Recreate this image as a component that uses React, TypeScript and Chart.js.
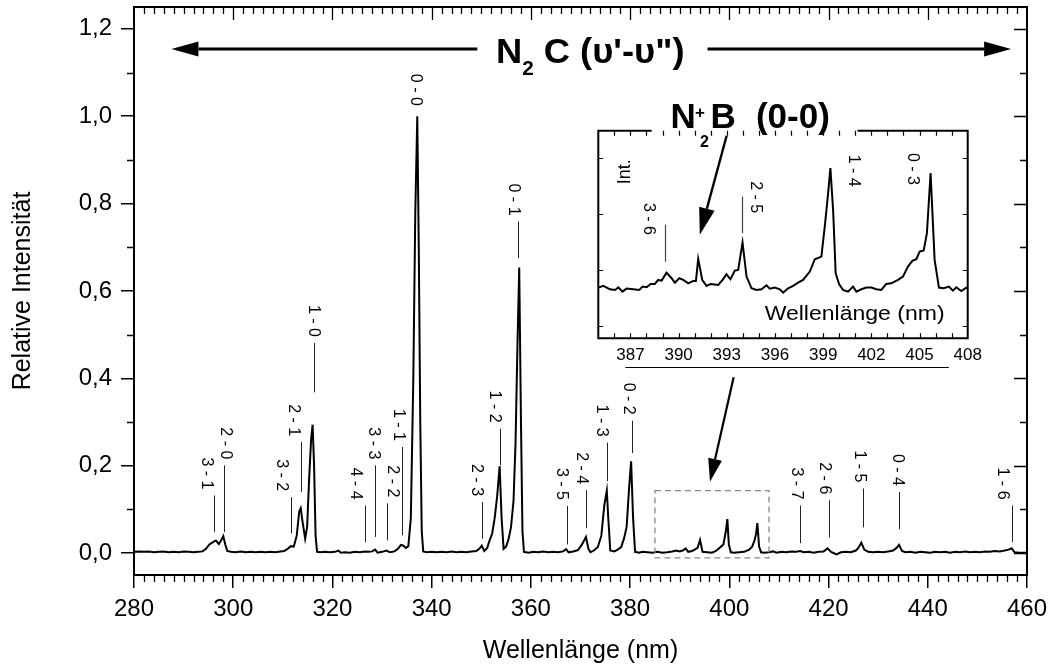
import React, { useEffect, useRef } from "react";
import { Chart, registerables } from "chart.js";

Chart.register(...registerables);

const FONT = "'Liberation Sans', Arial, Helvetica, sans-serif";

// ---- main spectrum (N2 C-B emission) ----
const wavelengthNm = [
  280, 281, 282, 283, 284, 285, 286, 287, 288, 289, 290, 291, 292, 293, 293.8, 294.5, 295.2, 296.0, 296.5, 297.1,
  297.6, 298.0, 298.4, 298.8, 299.5, 300.5, 301.5, 302.5, 303.5, 304.5, 305.5, 306.5, 307.5, 308.5, 309.5, 310.3,
  311.0, 311.6, 312.2, 312.8, 313.3, 313.6, 314.0, 314.5, 314.9, 315.3, 315.7, 316.0, 316.3, 316.6, 316.9, 317.5,
  318.5, 319.5, 320.5, 321.2, 321.7, 322.5, 323.5, 324.5, 325.5, 326.5, 327.3, 328.0, 328.6, 329.1, 330.0, 330.9,
  331.6, 332.5, 333.2, 333.8, 334.3, 334.8, 335.3, 335.8, 336.3, 336.7, 337.1, 337.4, 337.7, 338.0, 338.3, 339,
  340, 341, 342, 343, 344, 345, 346, 347, 348, 349, 349.6, 350.1, 350.6, 351.2, 351.7, 352.2, 352.7, 353.2, 353.7,
  354.1, 354.5, 355.0, 355.5, 356.0, 356.5, 356.9, 357.3, 357.65, 358.0, 358.3, 358.6, 359.5, 360.5, 361.5, 362.5,
  363.5, 364.5, 365.5, 366.5, 367.1, 367.6, 368.5, 369.5, 370.3, 371.1, 371.6, 372.0, 372.7, 373.5, 374.2, 374.8,
  375.3, 375.6, 376.0, 376.8, 377.5, 378.2, 378.8, 379.3, 379.8, 380.2, 380.6, 381.0, 381.8, 382.5, 383.5, 384.5,
  385.5, 386.5, 387.5, 388.5, 389.3, 390.0, 390.6, 391.2, 391.7, 392.5, 393.0, 393.6, 394.1, 394.6, 395.5, 396.5,
  397.3, 398.0, 398.8, 399.3, 399.6, 399.9, 400.3, 401.0, 402.0, 403.0, 404.0, 404.6, 405.1, 405.4, 405.65, 406.0,
  406.4, 407.0, 408.0, 408.8, 409.5, 410.5, 411.5, 412.5, 413.5, 414.3, 415.0, 416.0, 417.0, 418.0, 419.0, 419.8,
  420.5, 421.6, 422.5, 423.5, 424.5, 425.5, 426.0, 426.6, 427.2, 428.0, 429.0, 430.0, 431.0, 432.0, 433.0, 433.7,
  434.2, 434.8, 435.5, 436.5, 437.5, 438.5, 439.5, 440.5, 441.5, 442.5, 443.5, 444.5, 445.5, 446.5, 447.5, 448.5,
  449.5, 450.5, 451.5, 452.5, 453.5, 454.5, 455.5, 456.3, 456.9, 457.5, 458.5, 459.5, 460.0,
];
const relIntensity = [
  0.003, 0.004, 0.003, 0.004, 0.002, 0.003, 0.004, 0.002, 0.003, 0.002, 0.004, 0.003, 0.002, 0.003, 0.004, 0.010, 0.020, 0.026, 0.029, 0.021,
  0.030, 0.039, 0.020, 0.005, 0.003, 0.002, 0.004, 0.002, 0.003, 0.002, 0.003, 0.002, 0.003, 0.002, 0.004, 0.005,
  0.010, 0.016, 0.015, 0.040, 0.095, 0.103, 0.070, 0.033, 0.060, 0.170, 0.260, 0.294, 0.200, 0.040, 0.003, 0.002,
  0.003, 0.002, 0.003, 0.006, 0.001, 0.002, 0.001, 0.003, 0.002, 0.004, 0.003, 0.004, 0.008, 0.001, 0.003, 0.006,
  0.002, 0.004, 0.010, 0.019, 0.017, 0.012, 0.016, 0.080, 0.400, 0.780, 1.000, 0.700, 0.300, 0.050, 0.004, 0.002,
  0.003, 0.002, 0.003, 0.002, 0.004, 0.002, 0.003, 0.002, 0.004, 0.005, 0.010, 0.017, 0.005, 0.012, 0.030, 0.045, 0.080, 0.130, 0.199,
  0.080, 0.010, 0.015, 0.032, 0.060, 0.120, 0.250, 0.480, 0.654, 0.300, 0.050, 0.003, 0.001, 0.003, 0.002, 0.004,
  0.002, 0.003, 0.002, 0.004, 0.009, 0.002, 0.004, 0.007, 0.020, 0.037, 0.010, 0.002, 0.006, 0.014, 0.040, 0.110,
  0.143, 0.080, 0.006, 0.004, 0.008, 0.014, 0.035, 0.060, 0.150, 0.210, 0.080, 0.003, 0.001, 0.003, 0.002, 0.001,
  0.003, 0.001, 0.002, 0.004, 0.006, 0.004, 0.006, 0.011, 0.003, 0.005, 0.008, 0.012, 0.030, 0.003, 0.002, 0.001,
  0.005, 0.012, 0.020, 0.050, 0.078, 0.020, 0.002, 0.001, 0.002, 0.003, 0.008, 0.015, 0.030, 0.045, 0.069, 0.015,
  0.002, 0.001, 0.002, 0.004, 0.001, 0.003, 0.002, 0.004, 0.003, 0.005, 0.002, 0.003, 0.001, 0.003, 0.004, 0.011,
  0.003, -0.003, 0.002, 0.003, 0.002, 0.006, 0.012, 0.024, 0.008, 0.003, 0.002, 0.003, 0.002, 0.004, 0.006, 0.012,
  0.019, 0.005, 0.002, 0.003, 0.001, 0.003, 0.002, 0.001, 0.003, 0.002, 0.003, 0.001, 0.003, 0.002, 0.004, 0.002,
  0.003, 0.002, 0.004, 0.003, 0.005, 0.004, 0.006, 0.008, 0.011, 0.002, 0.001, 0.001, 0.001,
];

const xTickValues = [280, 300, 320, 340, 360, 380, 400, 420, 440, 460];
const yTickValues = [0, 0.2, 0.4, 0.6, 0.8, 1.0, 1.2];

// band assignments (v'-v'') of the main plot
const bandNames = [
  "3 - 1", "2 - 0", "3 - 2", "2 - 1", "1 - 0", "4 - 4", "3 - 3", "2 - 2", "1 - 1", "0 - 0", "2 - 3",
  "1 - 2", "0 - 1", "3 - 5", "2 - 4", "1 - 3", "0 - 2", "3 - 7", "2 - 6", "1 - 5", "0 - 4", "1 - 6",
];
const bandLineNm = [296.1, 298.1, 311.6, 313.6, 316.3, 326.6, 328.6, 331.0, 334.0, 336.7, 350.1, 353.7, 357.5, 367.2, 371.2, 375.4, 380.4, 414.3, 420.0, 426.9, 434.3, 456.9];
const bandLineTop = [0.132, 0.201, 0.128, 0.254, 0.481, 0.109, 0.201, 0.114, 0.243, 1.01, 0.117, 0.285, 0.759, 0.108, 0.144, 0.253, 0.303, 0.109, 0.121, 0.148, 0.140, 0.109];
const bandLineBottom = [0.048, 0.048, 0.045, 0.140, 0.368, 0.025, 0.037, 0.029, 0.041, 1.01, 0.033, 0.201, 0.675, 0.020, 0.057, 0.165, 0.229, 0.023, 0.036, 0.059, 0.055, 0.025];
const bandTextNm = [294.5, 298.4, 309.8, 312.1, 316.1, 324.6, 328.2, 332.0, 333.3, 336.7, 349.1, 352.7, 356.5, 366.1, 370.2, 374.2, 379.6, 413.5, 419.1, 426.3, 433.8, 455.1];

// ---- inset: N2+ B (0-0) region, arbitrary units ----
const insetWavelengthNm = [
  385.0, 385.31, 385.73, 386.04, 386.25, 386.5, 386.76, 387.18, 387.55, 387.76, 388.01, 388.26, 388.52, 388.73,
  388.94, 389.25, 389.56, 389.77, 390.04, 390.29, 390.6, 390.91, 391.08, 391.22, 391.47, 391.74, 391.99, 392.47,
  392.74, 392.98, 393.23, 393.5, 393.71, 393.98, 394.23, 394.54, 394.85, 395.16, 395.47, 395.68, 395.99, 396.3,
  396.51, 396.82, 397.13, 397.44, 397.75, 398.17, 398.48, 398.89, 399.1, 399.31, 399.45, 399.62, 399.78, 399.99,
  400.24, 400.55, 400.86, 401.07, 401.38, 401.69, 402.0, 402.31, 402.62, 402.93, 403.24, 403.66, 403.97, 404.28,
  404.55, 404.8, 405.01, 405.26, 405.46, 405.69, 405.94, 406.21, 406.5, 406.83, 407.08, 407.29, 407.6, 407.91, 408.0,
];
const insetIntensity = [
  0.686, 0.716, 0.656, 0.644, 0.692, 0.614, 0.668, 0.656, 0.644, 0.704, 0.692, 0.751, 0.751, 0.823,
  0.811, 0.954, 0.853, 0.775, 0.853, 0.823, 0.763, 0.805, 0.805, 1.199, 0.823, 0.716, 0.751, 0.733,
  0.823, 0.924, 0.835, 0.99, 1.002, 1.491, 0.883, 0.674, 0.644, 0.656, 0.727, 0.668, 0.686, 0.656,
  0.596, 0.674, 0.716, 0.775, 0.823, 0.972, 1.193, 1.24, 1.777, 2.373, 2.821, 2.075, 0.942, 0.751,
  0.644, 0.614, 0.704, 0.614, 0.656, 0.686, 0.686, 0.656, 0.644, 0.751, 0.763, 0.823, 0.883, 1.061,
  1.163, 1.193, 1.33, 1.348, 1.658, 2.731, 1.181, 0.686, 0.674, 0.704, 0.632, 0.692, 0.626, 0.686, 0.67,
];
const insetXTickValues = [387, 390, 393, 396, 399, 402, 405, 408];
const insetYTickValues = [0, 1, 2, 3];
const insetBandNames = ["3 - 6", "2 - 5", "1 - 4", "0 - 3"];
const insetBandLineNm = [389.15, 393.96, null, null];
const insetBandLineTop = [1.807, 2.313, null, null];
const insetBandLineBottom = [1.15, 1.658, null, null];
const insetBandTextNm = [388.09, 394.79, 400.87, 404.54];
const insetBandTextEnd = [1.628, 2.015, 2.49, 2.52];

function drawArrow(ctx: CanvasRenderingContext2D, x1: number, y1: number, x2: number, y2: number, headLen: number, headHalf: number, lw: number) {
  const a = Math.atan2(y2 - y1, x2 - x1);
  const bx = x2 - headLen * Math.cos(a);
  const by = y2 - headLen * Math.sin(a);
  ctx.lineWidth = lw;
  ctx.beginPath();
  ctx.moveTo(x1, y1);
  ctx.lineTo(bx, by);
  ctx.stroke();
  ctx.beginPath();
  ctx.moveTo(x2, y2);
  ctx.lineTo(bx + headHalf * Math.sin(a), by - headHalf * Math.cos(a));
  ctx.lineTo(bx - headHalf * Math.sin(a), by + headHalf * Math.cos(a));
  ctx.closePath();
  ctx.fill();
}

function drawRotatedLabel(ctx: CanvasRenderingContext2D, text: string, x: number, yEnd: number) {
  ctx.save();
  ctx.translate(x, yEnd);
  ctx.rotate(Math.PI / 2);
  ctx.textAlign = "right";
  ctx.textBaseline = "middle";
  ctx.fillText(text, 0, 0);
  ctx.restore();
}

const mainDecor = {
  id: "mainDecor",
  afterDatasetsDraw(chart: any) {
    const { ctx } = chart;
    const x = chart.scales.x;
    const y = chart.scales.y;
    ctx.save();
    // dashed box marking the inset region
    ctx.strokeStyle = "#888";
    ctx.lineWidth = 1.3;
    ctx.setLineDash([6, 4]);
    const bl = x.getPixelForValue(385), br = x.getPixelForValue(408);
    const bt = y.getPixelForValue(0.143), bb = y.getPixelForValue(-0.011);
    ctx.strokeRect(bl, bt, br - bl, bb - bt);
    ctx.setLineDash([]);

    // band labels
    ctx.fillStyle = "#000";
    ctx.strokeStyle = "#222";
    ctx.lineWidth = 1;
    ctx.font = `16px ${FONT}`;
    bandNames.forEach((name, i) => {
      const lx = Math.round(x.getPixelForValue(bandLineNm[i])) + 0.5;
      const top = y.getPixelForValue(bandLineTop[i]);
      const bot = y.getPixelForValue(bandLineBottom[i]);
      if (bot - top > 1) {
        ctx.beginPath();
        ctx.moveTo(lx, top);
        ctx.lineTo(lx, bot);
        ctx.stroke();
      }
      drawRotatedLabel(ctx, name, x.getPixelForValue(bandTextNm[i]), top - 6);
    });

    // N2 C (v'-v'') header with arrows
    ctx.fillStyle = "#000";
    ctx.strokeStyle = "#000";
    const ay = y.getPixelForValue(1.154);
    drawArrow(ctx, x.getPixelForValue(349.2), ay, x.getPixelForValue(287.55), ay, 27, 7.5, 3);
    drawArrow(ctx, x.getPixelForValue(395.6), ay, x.getPixelForValue(456.8), ay, 27, 7.5, 3);
    const bx0 = x.getPixelForValue(352.95);
    const bx1 = x.getPixelForValue(390.96);
    const base = y.getPixelForValue(1.1215);
    const big = `bold 35px ${FONT}`;
    const sub = `bold 20px ${FONT}`;
    const rest = " C (\u03C5'-\u03C5\")";
    ctx.font = big;
    const wN = ctx.measureText("N").width;
    const wRest = ctx.measureText(rest).width;
    ctx.font = sub;
    const w2 = ctx.measureText("2").width;
    const sx = (bx1 - bx0) / (wN + w2 + wRest);
    ctx.save();
    ctx.translate(bx0, base);
    ctx.scale(sx, 1);
    ctx.textAlign = "left";
    ctx.textBaseline = "alphabetic";
    ctx.font = big;
    ctx.fillText("N", 0, 0);
    ctx.font = sub;
    ctx.fillText("2", wN, 12);
    ctx.font = big;
    ctx.fillText(rest, wN + w2, 0);
    ctx.restore();

    // line under the inset axis and arrow to the dashed box
    ctx.lineWidth = 1.2;
    const ly = Math.round(y.getPixelForValue(0.4255)) + 0.5;
    ctx.beginPath();
    ctx.moveTo(x.getPixelForValue(379.05), ly);
    ctx.lineTo(x.getPixelForValue(444.25), ly);
    ctx.stroke();
    drawArrow(ctx, x.getPixelForValue(400.87), y.getPixelForValue(0.4028), x.getPixelForValue(396.1), y.getPixelForValue(0.1635), 23, 7, 2.2);
    ctx.restore();
  },
  afterDraw(chart: any) {
    const { ctx, chartArea: ca } = chart;
    const x = chart.scales.x;
    const y = chart.scales.y;
    ctx.save();
    ctx.strokeStyle = "#000";
    ctx.lineWidth = 2;
    ctx.beginPath();
    ctx.moveTo(ca.left - 1, ca.top);
    ctx.lineTo(ca.right, ca.top);
    ctx.lineTo(ca.right, ca.bottom + 1);
    ctx.stroke();
    ctx.lineWidth = 1.3;
    ctx.beginPath();
    for (let v = 282; v < 460; v += 2) {
      const p = Math.round(x.getPixelForValue(v)) + 0.5;
      const major = v % 20 === 0;
      if (!major) {
        ctx.moveTo(p, ca.bottom);
        ctx.lineTo(p, ca.bottom + 7);
      }
      ctx.moveTo(p, ca.top);
      ctx.lineTo(p, ca.top + (major ? 13 : 7));
    }
    for (let k = 0; k <= 12; k++) {
      const v = k / 10;
      const p = Math.round(y.getPixelForValue(v)) + 0.5;
      const major = k % 2 === 0;
      if (!major) {
        ctx.moveTo(ca.left, p);
        ctx.lineTo(ca.left - 7, p);
      }
      ctx.moveTo(ca.right, p);
      ctx.lineTo(ca.right - (major ? 13 : 7), p);
    }
    ctx.stroke();
    ctx.restore();
  },
};

const insetDecor = {
  id: "insetDecor",
  beforeDraw(chart: any) {
    const { ctx, chartArea: ca } = chart;
    ctx.save();
    ctx.fillStyle = "#fff";
    ctx.fillRect(ca.left, ca.top, ca.right - ca.left, ca.bottom - ca.top);
    ctx.restore();
  },
  afterDraw(chart: any) {
    const { ctx, chartArea: ca } = chart;
    const x = chart.scales.x;
    const y = chart.scales.y;
    ctx.save();
    ctx.strokeStyle = "#000";
    ctx.fillStyle = "#000";
    // frame with a gap for the title
    const g0 = x.getPixelForValue(388.32);
    const g1 = x.getPixelForValue(401.14);
    ctx.lineWidth = 2;
    ctx.beginPath();
    ctx.moveTo(g0, ca.top);
    ctx.lineTo(ca.left, ca.top);
    ctx.lineTo(ca.left, ca.bottom);
    ctx.lineTo(ca.right, ca.bottom);
    ctx.lineTo(ca.right, ca.top);
    ctx.lineTo(g1, ca.top);
    ctx.stroke();
    // ticks (inward)
    ctx.lineWidth = 1.2;
    ctx.beginPath();
    for (let v = 386; v < 408; v++) {
      const p = Math.round(x.getPixelForValue(v)) + 0.5;
      ctx.moveTo(p, ca.bottom);
      ctx.lineTo(p, ca.bottom - 5);
      ctx.moveTo(p, ca.top);
      ctx.lineTo(p, ca.top + 5);
    }
    insetYTickValues.forEach((v) => {
      const p = Math.round(y.getPixelForValue(v)) + 0.5;
      ctx.moveTo(ca.left, p);
      ctx.lineTo(ca.left + 5, p);
      ctx.moveTo(ca.right, p);
      ctx.lineTo(ca.right - 5, p);
    });
    ctx.stroke();

    // band labels
    ctx.strokeStyle = "#444";
    ctx.lineWidth = 1.2;
    ctx.font = `16px ${FONT}`;
    insetBandNames.forEach((name, i) => {
      const ln = insetBandLineNm[i];
      if (ln !== null) {
        const lx = Math.round(x.getPixelForValue(ln)) + 0.5;
        ctx.beginPath();
        ctx.moveTo(lx, y.getPixelForValue(insetBandLineTop[i] as number));
        ctx.lineTo(lx, y.getPixelForValue(insetBandLineBottom[i] as number));
        ctx.stroke();
      }
      drawRotatedLabel(ctx, name, x.getPixelForValue(insetBandTextNm[i]), y.getPixelForValue(insetBandTextEnd[i]));
    });

    // "Int." axis note
    ctx.save();
    ctx.translate(x.getPixelForValue(386.64), y.getPixelForValue(2.755));
    ctx.rotate(-Math.PI / 2);
    ctx.textAlign = "center";
    ctx.textBaseline = "middle";
    ctx.font = `18px ${FONT}`;
    ctx.fillText("Int.", 0, 0);
    ctx.restore();

    // in-plot axis title
    ctx.save();
    ctx.font = `20px ${FONT}`;
    const t = "Wellenlänge (nm)";
    const tw = ctx.measureText(t).width;
    ctx.translate(x.getPixelForValue(400.96), y.getPixelForValue(0.197));
    ctx.scale(180 / tw, 1);
    ctx.textAlign = "center";
    ctx.textBaseline = "middle";
    ctx.fillText(t, 0, 0);
    ctx.restore();

    // N2+ B (0-0) title
    const nx = x.getPixelForValue(389.49);
    const nb = y.getPixelForValue(3.542);
    ctx.textAlign = "left";
    ctx.textBaseline = "alphabetic";
    ctx.font = `bold 35px ${FONT}`;
    ctx.fillText("N", nx, nb);
    ctx.fillText("B", nx + 40, nb);
    ctx.fillText("(0-0)", nx + 85.5, nb);
    ctx.font = `bold 17px ${FONT}`;
    ctx.fillText("+", nx + 24.5, nb - 10);
    ctx.font = `bold 16px ${FONT}`;
    ctx.fillText("2", nx + 29.5, nb + 19);

    // arrow to the N2+ band
    ctx.strokeStyle = "#000";
    drawArrow(ctx, x.getPixelForValue(392.99), y.getPixelForValue(3.4), x.getPixelForValue(391.32), y.getPixelForValue(1.63), 27, 8, 2.4);
    ctx.restore();
  },
};

export default function App() {
  const mainRef = useRef<HTMLCanvasElement>(null);
  const insetRef = useRef<HTMLCanvasElement>(null);

  useEffect(() => {
    const main = new Chart(mainRef.current as HTMLCanvasElement, {
      type: "line",
      data: {
        datasets: [
          {
            data: wavelengthNm.map((w, i) => ({ x: w, y: relIntensity[i] })),
            borderColor: "#000",
            borderWidth: 2,
            pointRadius: 0,
            tension: 0,
            fill: false,
          },
        ],
      },
      options: {
        responsive: false,
        animation: false,
        events: [],
        layout: { padding: { left: 0, right: 25, top: 7, bottom: 0 } },
        plugins: { legend: { display: false }, tooltip: { enabled: false } },
        scales: {
          x: {
            type: "linear",
            min: 280,
            max: 460,
            afterBuildTicks: (s: any) => {
              s.ticks = xTickValues.map((v) => ({ value: v }));
            },
            afterFit: (s: any) => {
              s.height = 96;
              s.paddingLeft = 0;
              s.paddingRight = 0;
            },
            ticks: {
              color: "#000",
              font: { family: FONT, size: 24 },
              padding: 7,
              maxRotation: 0,
              autoSkip: false,
              callback: (v: any) => String(v),
            },
            grid: { display: true, drawOnChartArea: false, drawTicks: true, tickLength: 13, color: "#000", lineWidth: 1.5 },
            border: { display: true, color: "#000", width: 2 },
            title: {
              display: true,
              text: "Wellenlänge (nm)",
              color: "#000",
              font: { family: FONT, size: 25 },
              padding: { top: 0, bottom: 5 },
            },
          },
          y: {
            type: "linear",
            min: -0.05,
            max: 1.25,
            afterBuildTicks: (s: any) => {
              s.ticks = yTickValues.map((v) => ({ value: v }));
            },
            afterFit: (s: any) => {
              s.width = 134;
              s.paddingTop = 0;
              s.paddingBottom = 0;
            },
            ticks: {
              color: "#000",
              font: { family: FONT, size: 24 },
              padding: 9,
              autoSkip: false,
              callback: (v: any) => Number(v).toFixed(1).replace(".", ","),
            },
            grid: { display: true, drawOnChartArea: false, drawTicks: true, tickLength: 13, color: "#000", lineWidth: 1.5 },
            border: { display: true, color: "#000", width: 2 },
            title: {
              display: true,
              text: "Relative Intensität",
              color: "#000",
              font: { family: FONT, size: 25 },
              padding: { top: 8, bottom: 0 },
            },
          },
        },
      },
      plugins: [mainDecor],
    } as any);

    const inset = new Chart(insetRef.current as HTMLCanvasElement, {
      type: "line",
      data: {
        datasets: [
          {
            data: insetWavelengthNm.map((w, i) => ({ x: w, y: insetIntensity[i] })),
            borderColor: "#000",
            borderWidth: 2,
            pointRadius: 0,
            tension: 0,
            fill: false,
          },
        ],
      },
      options: {
        responsive: false,
        animation: false,
        events: [],
        layout: { padding: { left: 38.3, right: 32.3, top: 40.7, bottom: 0 } },
        plugins: { legend: { display: false }, tooltip: { enabled: false } },
        scales: {
          x: {
            type: "linear",
            min: 385,
            max: 408,
            afterBuildTicks: (s: any) => {
              s.ticks = insetXTickValues.map((v) => ({ value: v }));
            },
            afterFit: (s: any) => {
              s.height = 41.7;
              s.paddingLeft = 0;
              s.paddingRight = 0;
            },
            ticks: {
              color: "#000",
              font: { family: FONT, size: 17 },
              padding: 7,
              maxRotation: 0,
              autoSkip: false,
              callback: (v: any) => String(v),
            },
            grid: { display: false, drawTicks: false },
            border: { display: false },
          },
          y: { type: "linear", display: false, min: -0.22, max: 3.49 },
        },
      },
      plugins: [insetDecor],
    } as any);

    return () => {
      main.destroy();
      inset.destroy();
    };
  }, []);

  return (
    <div style={{ position: "fixed", left: 0, top: 0, width: 1052, height: 671, background: "#fff" }}>
      <canvas ref={mainRef} width={1052} height={671} style={{ position: "absolute", left: 0, top: 0 }} />
      <canvas ref={insetRef} width={440} height={290} style={{ position: "absolute", left: 560, top: 90 }} />
    </div>
  );
}
